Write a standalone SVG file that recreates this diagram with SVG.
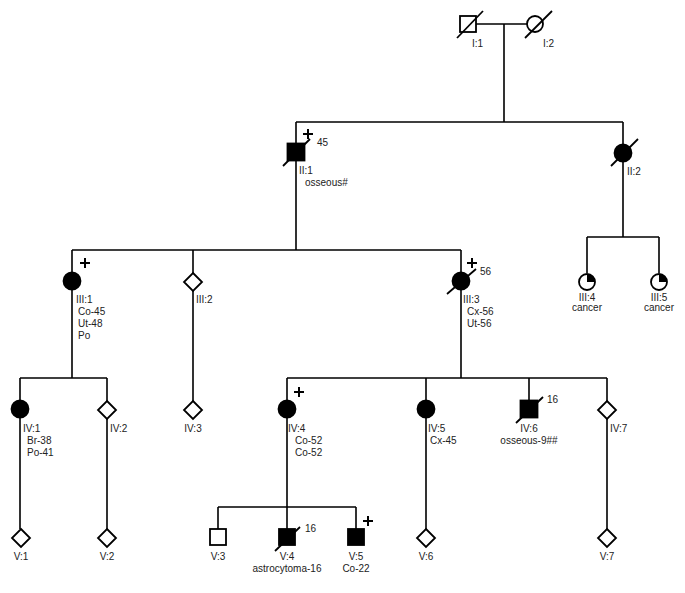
<svg xmlns="http://www.w3.org/2000/svg" width="685" height="593" viewBox="0 0 685 593">
<style>
.ln{stroke:#000;stroke-width:1.6;fill:none}
.sym{stroke:#000;stroke-width:1.8;fill:#fff}
.aff{stroke:#000;stroke-width:1.8;fill:#000}
.sl{stroke:#000;stroke-width:1.8}
.pl{stroke:#000;stroke-width:2}
text{font-family:"Liberation Sans",Arial,sans-serif;font-size:10px;fill:#222}
.c{text-anchor:middle}
</style>
<rect width="685" height="593" fill="#fff"/>
<g id="connectors">
<path class="ln" d="M476,24H527M504,24V122M296,122H623M296,122V143M623,122V145"/>
<path class="ln" d="M296,160V250M72,250H461M72,250V272M193,250V273M461,250V272"/>
<path class="ln" d="M623,161V237M587,237H659M587,237V273M659,237V273"/>
<path class="ln" d="M72,290V378M20,378H107M20,378V400M107,378V401M193,291V401"/>
<path class="ln" d="M461,290V378M287,378H607M287,378V400M426,378V400M529,378V400M607,378V401"/>
<path class="ln" d="M20,418V529M107,419V529M287,418V507M218,507H356M218,507V529M287,507V529M356,507V529M426,418V529M607,419V529"/>
</g>
<g id="I1"><rect class="sym" x="460" y="16" width="16" height="16"/><line class="sl" x1="457" y1="38" x2="483" y2="11"/><text x="472" y="47">I:1</text></g>
<g id="I2"><circle class="sym" cx="535" cy="24" r="8"/><line class="sl" x1="525" y1="38" x2="552" y2="11"/><text x="543" y="47">I:2</text></g>
<g id="II1"><rect class="aff" x="287.5" y="143.5" width="17" height="17"/><line class="sl" x1="283" y1="166" x2="310" y2="139"/><path class="pl" d="M303,134H313M308,129V139"/><text x="317" y="146">45</text><text x="299" y="174">II:1</text><text x="305" y="186">osseous#</text></g>
<g id="II2"><circle class="aff" cx="623" cy="153" r="8.5"/><line class="sl" x1="611" y1="166" x2="638" y2="139"/><text x="627" y="175">II:2</text></g>
<g id="III1"><circle class="aff" cx="72" cy="281" r="8.5"/><path class="pl" d="M80,263H90M85,258V268"/><text x="76" y="303">III:1</text><text x="78" y="315">Co-45</text><text x="78" y="327">Ut-48</text><text x="78" y="339">Po</text></g>
<g id="III2"><path class="sym" d="M193,273L202,282L193,291L184,282Z"/><text x="196" y="303">III:2</text></g>
<g id="III3"><circle class="aff" cx="461" cy="281" r="8.5"/><line class="sl" x1="447" y1="294" x2="476" y2="269"/><path class="pl" d="M467,263H477M472,258V268"/><text x="480" y="275">56</text><text x="463" y="303">III:3</text><text x="467" y="315">Cx-56</text><text x="467" y="327">Ut-56</text></g>
<g id="III4"><circle class="sym" cx="587" cy="282" r="8"/><path fill="#000" d="M587,282V274A8,8 0 0 1 595,282Z"/><text class="c" x="587" y="301">III:4</text><text class="c" x="587" y="311">cancer</text></g>
<g id="III5"><circle class="sym" cx="659" cy="282" r="8"/><path fill="#000" d="M659,282V274A8,8 0 0 1 667,282Z"/><text class="c" x="659" y="301">III:5</text><text class="c" x="659" y="311">cancer</text></g>
<g id="IV1"><circle class="aff" cx="20" cy="409" r="8.5"/><text x="23" y="432">IV:1</text><text x="27" y="444">Br-38</text><text x="27" y="456">Po-41</text></g>
<g id="IV2"><path class="sym" d="M107,401L116,410L107,419L98,410Z"/><text x="110" y="432">IV:2</text></g>
<g id="IV3"><path class="sym" d="M193,401L202,410L193,419L184,410Z"/><text class="c" x="193" y="432">IV:3</text></g>
<g id="IV4"><circle class="aff" cx="287" cy="409" r="8.5"/><path class="pl" d="M294,392H304M299,387V397"/><text x="288" y="432">IV:4</text><text x="295" y="444">Co-52</text><text x="295" y="456">Co-52</text></g>
<g id="IV5"><circle class="aff" cx="426" cy="409" r="8.5"/><text x="428" y="432">IV:5</text><text x="430" y="444">Cx-45</text></g>
<g id="IV6"><rect class="aff" x="520.5" y="400.5" width="17" height="17"/><line class="sl" x1="516" y1="423" x2="543" y2="397"/><text x="547" y="403">16</text><text class="c" x="529" y="432">IV:6</text><text class="c" x="529" y="444">osseous-9##</text></g>
<g id="IV7"><path class="sym" d="M607,401L616,410L607,419L598,410Z"/><text x="610" y="432">IV:7</text></g>
<g id="V1"><path class="sym" d="M21,529L30,538L21,547L12,538Z"/><text class="c" x="21" y="560">V:1</text></g>
<g id="V2"><path class="sym" d="M107,529L116,538L107,547L98,538Z"/><text class="c" x="107" y="560">V:2</text></g>
<g id="V3"><rect class="sym" x="210" y="529" width="16" height="16"/><text class="c" x="218" y="560">V:3</text></g>
<g id="V4"><rect class="aff" x="279" y="529" width="16" height="16"/><line class="sl" x1="275" y1="551" x2="300" y2="527"/><text x="305" y="532">16</text><text class="c" x="287" y="560">V:4</text><text class="c" x="287" y="572">astrocytoma-16</text></g>
<g id="V5"><rect class="aff" x="348" y="529" width="16" height="16"/><path class="pl" d="M363,521H373M368,516V526"/><text class="c" x="356" y="560">V:5</text><text class="c" x="356" y="572">Co-22</text></g>
<g id="V6"><path class="sym" d="M426,529L435,538L426,547L417,538Z"/><text class="c" x="426" y="560">V:6</text></g>
<g id="V7"><path class="sym" d="M607,529L616,538L607,547L598,538Z"/><text class="c" x="607" y="560">V:7</text></g>
</svg>
